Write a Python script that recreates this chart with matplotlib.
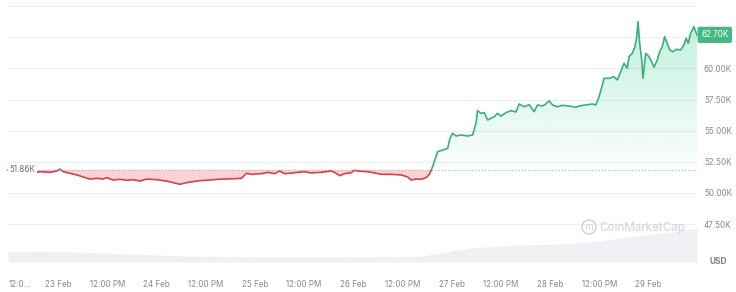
import numpy as np
import matplotlib
matplotlib.use("Agg")
import matplotlib.pyplot as plt
from matplotlib.colors import LinearSegmentedColormap, to_rgb
from matplotlib.patches import Rectangle, Circle, FancyBboxPatch
from matplotlib.path import Path
from matplotlib.transforms import IdentityTransform

plt.rcParams['font.family'] = ['Inter', 'DejaVu Sans']

# ---------------- data ----------------
# hours since 22 Feb 00:00
hours = [11.83, 14.26, 17.18, 20.03, 22.05, 23.68, 24.49, 25.29, 26.92, 28.55,
         30.16, 31.79, 33.42, 34.95, 35.85, 37.46, 39.09, 40.72, 42.26, 43.96,
         45.59, 48.02, 50.46, 52.06, 53.69, 55.33, 56.93, 58.56, 61.00, 62.94,
         64.65, 67.08, 68.71, 69.93, 71.15, 73.58, 75.19, 76.82, 78.03, 79.25,
         81.69, 84.12, 85.75, 88.18, 90.62, 91.83, 92.64, 93.86, 95.49, 96.29,
         97.92, 99.53, 101.16, 102.79, 105.22, 107.66, 109.26, 110.09, 111.31, 112.52,
         113.74, 114.54, 115.35, 116.17, 116.56, 117.78, 119.00, 119.58, 120.21, 121.04,
         122.26, 123.87, 125.08, 125.91, 126.30, 127.13, 127.93, 128.74, 129.56, 130.37,
         131.17, 132.00, 133.21, 134.43, 135.65, 136.45, 137.67, 138.88, 140.10, 140.90,
         142.12, 142.95, 143.75, 144.56, 145.77, 146.99, 148.62, 150.25, 151.06, 152.69,
         154.29, 155.12, 155.92, 156.73, 157.14, 158.36, 159.57, 160.38, 161.20, 162.01,
         162.81, 163.22, 164.03, 164.69, 165.10, 165.42, 165.83, 166.32, 166.63, 167.29,
         168.09, 168.89, 169.31, 170.11, 170.69, 171.33, 171.91, 172.55, 173.13, 173.93,
         174.74, 175.81, 176.61, 177.17, 177.66, 178.24, 179.04, 179.78]
price_k = [51.86, 51.77, 51.65, 51.71, 51.66, 51.77, 51.93, 51.71, 51.58, 51.45,
           51.29, 51.12, 51.18, 51.12, 51.23, 51.04, 51.10, 51.02, 51.07, 50.96,
           51.12, 51.07, 50.96, 50.83, 50.70, 50.83, 50.91, 50.99, 51.04, 51.10,
           51.12, 51.15, 51.18, 51.58, 51.50, 51.55, 51.66, 51.55, 51.77, 51.55,
           51.63, 51.71, 51.61, 51.66, 51.77, 51.58, 51.39, 51.55, 51.63, 51.82,
           51.74, 51.71, 51.61, 51.50, 51.50, 51.45, 51.29, 51.04, 51.12, 51.10,
           51.23, 51.49, 52.13, 52.92, 53.32, 53.45, 53.59, 54.39, 54.80, 54.58,
           54.66, 54.58, 54.66, 55.60, 56.61, 56.40, 56.45, 55.86, 56.00, 56.13,
           56.40, 56.18, 56.45, 56.61, 56.51, 57.15, 56.93, 57.09, 56.53, 57.07,
           56.99, 57.15, 57.41, 57.07, 56.93, 57.04, 56.99, 56.88, 56.99, 57.07,
           57.15, 57.07, 57.73, 58.67, 59.21, 59.21, 59.34, 59.08, 59.74, 60.42,
           60.02, 60.95, 61.22, 61.75, 62.55, 63.76, 62.02, 60.68, 59.21, 61.22,
           60.95, 60.42, 60.10, 60.68, 61.35, 61.75, 62.55, 62.02, 61.49, 61.35,
           61.54, 61.49, 61.89, 62.43, 62.02, 62.83, 63.36, 62.70]

vol_hours = [11.8, 19.6, 28.1, 41.5, 56.1, 73.2, 90.2, 107.2, 113.3, 117.0,
             124.3, 136.4, 146.2, 155.9, 163.2, 169.3, 175.4, 179.8]
volume = [10, 10.5, 10, 8, 6, 5, 5, 5.5, 6, 9, 14, 17, 18, 21, 25, 28, 31, 34]

open_price = 51.86
last_price = 62.70
y_ticks = [47.5, 50.0, 52.5, 55.0, 57.5, 60.0]
y_grid = [47.5, 50.0, 52.5, 55.0, 57.5, 60.0, 62.5, 65.0]
x_tick_hours = [12, 24, 36, 48, 60, 72, 84, 96, 108, 120, 132, 144, 156, 168]
x_tick_labels = ["12:0...", "23 Feb", "12:00 PM", "24 Feb", "12:00 PM", "25 Feb",
                 "12:00 PM", "26 Feb", "12:00 PM", "27 Feb", "12:00 PM", "28 Feb",
                 "12:00 PM", "29 Feb"]

# ---------------- figure ----------------
W, H = 736, 292
fig = plt.figure(figsize=(W / 100, H / 100), dpi=100)
fig.patch.set_facecolor('white')

x0, x1 = 11.8, 179.8
left, right = 8, 697
ax_bottom_px, ax_top_px = 262, 4

GREEN = '#3bb07a'
RED = '#d8404a'
TXT = '#808a9b'

# volume axes (behind)
axv = fig.add_axes([left / W, (H - ax_bottom_px) / H, (right - left) / W, 40 / H])
axv.fill_between(vol_hours, volume, 0, color='#eef0f3', linewidth=0)
axv.set_xlim(x0, x1)
axv.set_ylim(0, 40)
axv.axis('off')

ax = fig.add_axes([left / W, (H - ax_bottom_px) / H, (right - left) / W,
                   (ax_bottom_px - ax_top_px) / H])
ax.set_facecolor('none')
t = np.array(hours)
p = np.array(price_k)

for g in y_grid:
    ax.axhline(g, color='#eceef2', lw=0.8, zorder=0)

# red fill below baseline
ax.fill_between(t, p, open_price, where=p <= open_price, interpolate=True,
                color='#ea3943', alpha=0.22, linewidth=0, zorder=1)

# green gradient fill above baseline
poly = ax.fill_between(t, p, open_price, where=p >= open_price, interpolate=True,
                       color='none', linewidth=0)
gpath = Path.make_compound_path(*poly.get_paths())
r, gg, b = to_rgb('#16c784')
cmap = LinearSegmentedColormap.from_list('gfade', [(r, gg, b, 0.02), (r, gg, b, 0.26)])
grad = np.linspace(0, 1, 256).reshape(-1, 1)
im = ax.imshow(grad, extent=[x0, x1, open_price, max(price_k)], origin='lower',
               aspect='auto', cmap=cmap, zorder=1, interpolation='bilinear')
im.set_clip_path(gpath, transform=ax.transData)

# baseline
ax.axhline(open_price, color='#aab1bd', lw=0.8, linestyle=(0, (1, 2)), zorder=2)

# price line, coloured by side of baseline
lg, = ax.plot(t, p, color=GREEN, lw=1.2, zorder=3, solid_joinstyle='round')
lr, = ax.plot(t, p, color=RED, lw=1.2, zorder=3, solid_joinstyle='round')
rect_up = Rectangle((0, open_price), 1000, 100, transform=ax.transData)
rect_dn = Rectangle((0, open_price - 100), 1000, 100, transform=ax.transData)
lg.set_clip_path(rect_up)
lr.set_clip_path(rect_dn)

ax.set_xlim(x0, x1)
ax.set_ylim(44.458, 65.18)
for s in ax.spines.values():
    s.set_visible(False)

ax.yaxis.tick_right()
ax.set_yticks(y_ticks)
ax.set_yticklabels([f"{v:.2f}K" for v in y_ticks])
ax.tick_params(axis='y', length=0, pad=5, labelsize=5.8, labelcolor=TXT)
ax.set_xticks(x_tick_hours)
ax.set_xticklabels(x_tick_labels)
ax.tick_params(axis='x', length=0, pad=13, labelsize=5.8, labelcolor=TXT)
ax.get_xticklabels()[0].set_horizontalalignment('left')

# open price label
ax.text(x0 + 0.4, open_price, "51.86K", fontsize=5.8, color='#616e82',
        va='center', ha='left', zorder=6,
        bbox=dict(boxstyle='square,pad=0.25', fc='white', ec='none'))

# last price tag
ax.text(1.006, (last_price - 44.458) / (65.18 - 44.458), "62.70K",
        transform=ax.transAxes, fontsize=5.8, color='white', va='center', ha='left',
        zorder=6, clip_on=False,
        bbox=dict(boxstyle='round,pad=0.45,rounding_size=0.25', fc='#45b884', ec='none'))

# USD
fig.text(718 / W, 1 - 262 / H, "USD", fontsize=6, color='#7a8394',
         fontweight='bold', ha='center', va='center')

# watermark
fig.add_artist(Circle((589, H - 227), 7, transform=IdentityTransform(),
                      fill=False, ec='#cfd4db', lw=1.1))
fig.text(589 / W, 1 - 227.5 / H, "m", fontsize=7, color='#cfd4db',
         ha='center', va='center')
fig.text(599 / W, 1 - 228 / H, "CoinMarketCap", fontsize=8.4, color='#cdd2da',
         ha='left', va='center')

fig.savefig("out.png", dpi=100)
